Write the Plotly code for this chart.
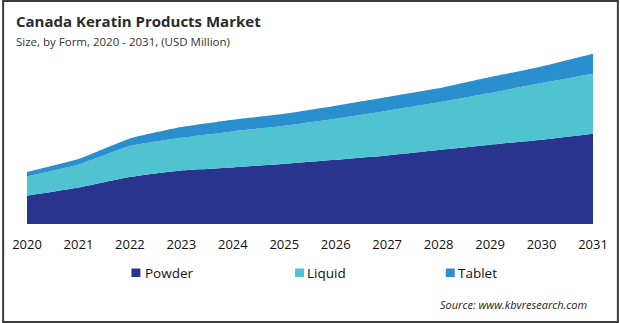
import plotly.graph_objects as go

years = [2020, 2021, 2022, 2023, 2024, 2025, 2026, 2027, 2028, 2029, 2030, 2031]
powder = [28.3, 36.5, 47.0, 53.6, 56.6, 60.3, 64.3, 68.6, 74.0, 79.3, 84.3, 90.3]
liquid = [19.3, 23.0, 31.0, 32.6, 36.0, 38.0, 41.0, 44.7, 47.7, 51.7, 56.7, 60.0]
tablet = [4.5, 5.5, 7.5, 10.8, 11.7, 12.0, 13.0, 13.7, 14.0, 16.0, 16.6, 20.0]

series = [("Powder", powder, "#29348f"), ("Liquid", liquid, "#4fc3cf"), ("Tablet", tablet, "#2a8fce")]

W, H = 620, 323
ML, MR, MT, MB = 25, 26, 40, 99
PW, PH = W - ML - MR, H - MT - MB

fig = go.Figure()
for name, vals, col in series:
    fig.add_trace(go.Scatter(
        x=years, y=vals, name=name, stackgroup="one",
        mode="lines", line=dict(width=0, color=col, shape="spline", smoothing=0.5),
        fillcolor=col, showlegend=False, hoverinfo="x+y+name"))

def px_x(p):
    return (p - ML) / PW

def px_y(p):
    return (H - MB - p) / PH

shapes = []
annotations = []
# legend squares & labels
legend_pos = [(130, 142), (294.5, 304.5), (446, 456)]
for (name, vals, col), (sx, tx) in zip(series, legend_pos):
    shapes.append(dict(type="rect", xref="paper", yref="paper",
                       x0=px_x(sx), x1=px_x(sx + 9), y0=px_y(277), y1=px_y(268.5),
                       fillcolor=col, line=dict(width=0)))
    annotations.append(dict(text=name, xref="paper", yref="paper",
                            x=px_x(tx), y=px_y(272.5), xanchor="left", yanchor="middle",
                            showarrow=False, font=dict(size=13.5, color="#111", family="Open Sans")))

# border
shapes.append(dict(type="rect", xref="paper", yref="paper",
                   x0=px_x(1), x1=px_x(619), y0=px_y(322), y1=px_y(1),
                   line=dict(width=2, color="#3c3c3c"), fillcolor="rgba(0,0,0,0)"))

annotations.append(dict(text="<b>Canada Keratin Products Market</b>", xref="paper", yref="paper",
                        x=px_x(12), y=px_y(21.5), xanchor="left", yanchor="middle", showarrow=False,
                        font=dict(size=15, color="#2b2b2b", family="Open Sans")))
annotations.append(dict(text="Size, by Form, 2020 - 2031, (USD Million)", xref="paper", yref="paper",
                        x=px_x(12), y=px_y(41.5), xanchor="left", yanchor="middle", showarrow=False,
                        font=dict(size=11.5, color="#333", family="Open Sans")))
annotations.append(dict(text="<i>Source: www.kbvresearch.com</i>", xref="paper", yref="paper",
                        x=px_x(590), y=px_y(304), xanchor="right", yanchor="middle", showarrow=False,
                        font=dict(size=11, color="#222", family="Open Sans")))

fig.update_layout(
    width=W, height=H,
    margin=dict(l=ML, r=MR, t=MT, b=MB),
    paper_bgcolor="white", plot_bgcolor="white",
    shapes=shapes, annotations=annotations,
    showlegend=False,
    xaxis=dict(range=[2020, 2031], tickvals=years, ticktext=[str(y) for y in years],
               showgrid=False, zeroline=False, showline=False, ticks="",
               ticklabelstandoff=11,
               tickfont=dict(size=13, color="#111", family="Open Sans"), fixedrange=True),
    yaxis=dict(range=[0, PH], visible=False, fixedrange=True),
)

fig.write_html("out.html", config={"displayModeBar": False})
